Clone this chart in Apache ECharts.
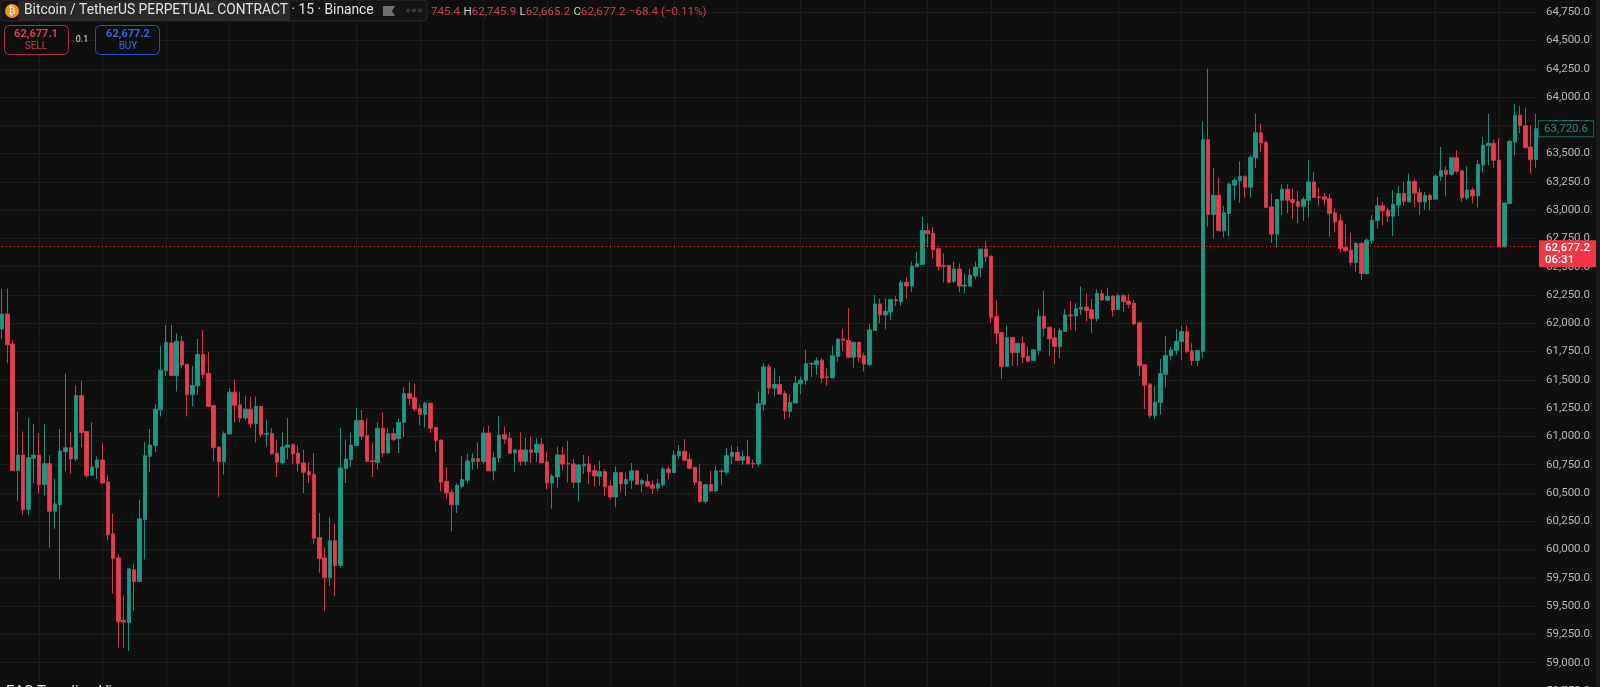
<!DOCTYPE html>
<html>
<head>
<meta charset="utf-8">
<title>BTCUSDT.P 15</title>
<script src="https://cdn.jsdelivr.net/npm/echarts@6/dist/echarts.min.js"></script>
<style>
  html,body{margin:0;padding:0;background:#0f0f0f;overflow:hidden;}
  #chart{width:1600px;height:687px;}
</style>
</head>
<body>
<div id="chart"></div>
<script>
// 15 min candles (prices in USDT)
var opens = [
  61950,62082,61817,60697,60835,60353,60806,60835,60574,60759,
  60338,60397,60865,60900,60800,61362,61044,60656,60724,60791,
  60597,60139,59927,59374,59354,59821,59718,60265,60824,60918,
  61235,61579,61826,61538,61841,61638,61368,61447,61723,61559,
  61273,60906,60777,61021,61391,61279,61162,61241,61112,61265,
  61018,61026,60853,60765,60903,60927,60853,60765,60691,60665,
  60106,59927,59751,60077,59859,60715,60794,60918,61141,61009,
  60785,60771,61071,60853,61024,60980,61124,61380,61342,61247,
  61195,61294,61080,60968,60601,60507,60395,60560,60612,60777,
  60804,60777,61030,60695,60809,61015,60983,60854,60880,60780,
  60880,60859,60930,60774,60589,60642,60836,60762,60756,60595,
  60739,60756,60698,60648,60689,60562,60465,60680,60580,60612,
  60695,60580,60601,60571,60542,60571,60712,60680,60830,60868,
  60798,60727,60601,60424,60574,60518,60695,60683,60824,60859,
  60789,60821,60762,60756,61283,61615,61427,61459,61380,61221,
  61295,61465,61495,61639,61633,61674,61527,61518,61706,61862,
  61850,61700,61833,61712,61636,61936,62171,62074,62100,62209,
  62191,62362,62329,62500,62521,62820,62797,62659,62512,62512,
  62371,62479,62329,62329,62418,62491,62656,62594,62059,61918,
  61618,61874,61741,61824,61709,61671,61759,62062,61965,61871,
  61794,61927,62074,62065,62124,62144,62121,62041,62262,62203,
  62238,62121,62244,62197,62177,62006,61633,61462,61183,61300,
  61550,61712,61759,61838,61927,61756,61671,61750,63623,62962,
  63132,62818,62971,63221,63259,63297,63203,63462,63685,63600,
  63029,62788,63088,63185,63094,63076,63035,63088,63250,63118,
  63118,63103,62976,62906,62671,62647,62538,62706,62441,62729,
  62906,63038,63000,62947,63044,63147,63073,63255,63155,63073,
  63129,63097,63300,63352,63317,63464,63349,63108,63179,63126,
  63399,63570,63591,63441,62676,63058,63602,63840,63746,63558,
  63446
];
var closes = [
  62082,61811,60697,60835,60353,60812,60835,60574,60759,60338,
  60403,60871,60900,60800,61362,61035,60653,60730,60791,60588,
  60130,59921,59362,59360,59830,59718,60271,60829,60924,61241,
  61585,61832,61538,61841,61632,61368,61450,61723,61544,61265,
  60900,60777,61024,61391,61273,61162,61241,61112,61265,61015,
  61026,60847,60771,60906,60924,60844,60759,60682,60659,60100,
  59921,59751,60077,59859,60721,60800,60924,61141,61000,60780,
  60777,61071,60853,61024,60971,61124,61380,61336,61242,61195,
  61294,61071,60962,60595,60501,60395,60565,60618,60783,60804,
  60777,61030,60695,60812,61012,60977,60851,60880,60780,60880,
  60859,60930,60765,60589,60648,60836,60756,60756,60595,60748,
  60756,60686,60651,60689,60554,60465,60680,60580,60618,60695,
  60577,60610,60562,60542,60580,60712,60680,60836,60868,60789,
  60718,60595,60424,60574,60518,60695,60689,60830,60859,60786,
  60821,60759,60756,61289,61615,61427,61459,61374,61224,61300,
  61471,61497,61642,61645,61668,61515,61521,61712,61859,61850,
  61700,61833,61700,61639,61941,62171,62074,62106,62209,62200,
  62362,62329,62506,62526,62820,62791,62650,62503,62503,62362,
  62479,62329,62338,62426,62497,62656,62588,62053,61912,61618,
  61874,61741,61824,61700,61665,61765,62062,61956,61862,61794,
  61936,62074,62065,62130,62141,62112,62041,62265,62206,62238,
  62118,62244,62191,62168,61994,61624,61453,61183,61303,61556,
  61715,61765,61841,61927,61750,61671,61759,63623,62962,63132,
  62818,62976,63229,63265,63300,63203,63467,63685,63594,63023,
  62788,63094,63185,63088,63068,63035,63094,63250,63112,63112,
  63097,62971,62897,62662,62641,62538,62706,62441,62735,62911,
  63038,62994,62947,63052,63147,63079,63255,63150,63073,63129,
  63094,63302,63352,63317,63464,63344,63108,63179,63126,63405,
  63573,63591,63441,62676,63064,63608,63840,63746,63552,63446,
  63720.6
];
var lows = [
  61858,61647,60697,60427,60303,60303,60588,60494,60477,60015,
  60183,59736,60691,60671,60779,60906,60632,60656,60624,60582,
  60083,59612,59133,59133,59104,59454,59718,59912,60682,60859,
  61176,61535,61538,61397,61603,61176,61265,61368,61515,61265,
  60780,60465,60662,61021,61126,61123,61147,61074,60947,60991,
  60912,60835,60641,60750,60800,60759,60691,60500,60588,60053,
  59795,59454,59677,59589,59839,60588,60730,60918,60971,60780,
  60641,60706,60818,60853,60956,60853,60992,61271,61218,61100,
  61080,61030,60859,60512,60454,60160,60324,60536,60580,60704,
  60712,60756,60695,60610,60771,60933,60845,60683,60742,60742,
  60765,60777,60765,60530,60360,60545,60698,60595,60542,60424,
  60668,60580,60560,60565,60471,60442,60374,60507,60471,60536,
  60571,60507,60551,60492,60512,60551,60618,60680,60801,60780,
  60707,60565,60412,60404,60512,60512,60571,60654,60756,60780,
  60748,60748,60718,60733,61227,61374,61353,61374,61153,61168,
  61295,61374,61456,61524,61544,61471,61447,61515,61662,61759,
  61689,61609,61653,61574,61618,61936,62000,61947,62030,62153,
  62153,62218,62277,62500,62521,62671,62574,62465,62362,62353,
  62353,62274,62265,62329,62388,62406,62541,62006,61815,61506,
  61618,61624,61624,61647,61665,61665,61721,61883,61712,61641,
  61691,61927,61941,61936,62074,62015,61912,62015,62200,62197,
  62059,62118,62103,62132,61985,61536,61242,61162,61153,61192,
  61433,61671,61721,61671,61736,61627,61618,61691,62853,62750,
  62818,62759,62771,63088,63065,63109,63109,63373,63515,63023,
  62712,62668,62956,62971,62926,62882,62906,62935,63112,63038,
  63044,62765,62809,62624,62632,62509,62456,62382,62427,62700,
  62838,62867,62897,62770,62947,63044,63073,63029,62955,63005,
  62999,63097,63258,63123,63300,63323,63073,63088,63058,63023,
  63332,63397,63376,62670,62670,63058,63485,63682,63544,63329,
  63376
];
var highs = [
  62302,62308,61853,61220,61044,61162,61109,61029,61109,60835,
  60627,61065,61553,61038,61450,61491,61044,61123,60824,60941,
  60656,60318,59956,59595,59830,59874,60441,60953,61065,61285,
  61803,61985,61985,61911,61888,61638,61623,61861,61941,61744,
  61273,60906,61044,61426,61500,61397,61359,61353,61353,61265,
  61147,61074,60971,61035,61162,60941,60918,60882,60771,60853,
  60324,60024,60289,60230,61074,60971,61035,61250,61235,61162,
  60947,61123,61212,61071,61071,61155,61433,61483,61468,61286,
  61306,61294,61080,60968,60727,60530,60586,60824,60845,60851,
  60948,61080,61095,60859,61177,61086,61036,60889,61036,60986,
  60998,60986,60986,60859,60668,60909,60909,60962,60801,60756,
  60836,60830,60748,60786,60712,60610,60736,60680,60683,60765,
  60707,60624,60668,60610,60624,60733,60742,60874,60924,60977,
  60851,60733,60754,60580,60698,60742,60718,60898,60918,60912,
  60874,60968,60795,61397,61647,61638,61600,61536,61403,61374,
  61536,61530,61765,61656,61700,61691,61603,61803,61868,61950,
  62133,61833,61833,61736,61994,62250,62218,62221,62221,62241,
  62382,62406,62544,62632,62941,62882,62853,62659,62618,62515,
  62544,62529,62435,62485,62544,62656,62726,62594,62206,61918,
  61977,61874,61824,61883,61794,61771,62127,62288,61965,61956,
  61956,62127,62197,62177,62324,62265,62215,62300,62294,62315,
  62250,62262,62256,62256,62206,62012,61633,61471,61447,61683,
  61888,61794,61950,61977,61977,61824,61765,63785,64250,63373,
  63288,63038,63244,63288,63432,63309,63485,63853,63764,63617,
  63147,63094,63229,63229,63191,63171,63118,63441,63338,63200,
  63153,63147,63015,62962,62876,62800,62721,62721,62750,62956,
  63117,63073,63023,63176,63214,63250,63323,63279,63197,63161,
  63147,63314,63558,63388,63470,63529,63349,63388,63200,63441,
  63646,63852,63623,63638,63064,63623,63940,63920,63905,63749,
  63852
];
var lastPrice = 62677.2;
var countdown = '06:31';
var movingAverage = 63720.6;
var sellPrice = '62,677.1';
var buyPrice = '62,677.2';

var upColor = '#1a9a85';
var downColor = '#f0394f';
var upWick = '#1b8d79';
var downWick = '#c83b4a';

var candles = [];
var categories = [];
for (var i = 0; i < opens.length; i++) {
  candles.push([opens[i], closes[i], lows[i], highs[i]]);
  categories.push(i);
}

function priceLabel(v) {
  return v.toLocaleString('en-US', {minimumFractionDigits: 1, maximumFractionDigits: 1});
}

var font = 'Roboto, "Liberation Sans", sans-serif';
var mychart = echarts.init(document.getElementById('chart'), null, {renderer: 'canvas'});

var option = {
  animation: false,
  backgroundColor: '#0f0f0f',
  // price scale runs past the top and bottom of the window, like the screenshot
  grid: {left: 2, right: 64, top: -16.08, bottom: -32.2, outerBoundsMode: 'none'},
  xAxis: {
    type: 'category',
    data: categories,
    boundaryGap: false,
    axisLine: {show: false},
    axisTick: {show: false},
    axisLabel: {show: false},
    splitLine: {
      show: true,
      interval: function (index) { return (index - 7) % 12 === 0; },
      lineStyle: {color: '#1d1d1d', width: 1}
    }
  },
  yAxis: {
    type: 'value',
    position: 'right',
    min: 58500,
    max: 65000,
    interval: 250,
    axisLine: {show: false},
    axisTick: {show: false},
    axisLabel: {
      color: '#b6b6b6',
      fontFamily: font,
      fontSize: 11.5,
      margin: 10,
      formatter: priceLabel
    },
    splitLine: {show: true, lineStyle: {color: '#1d1d1d', width: 1}}
  },
  series: [{
    type: 'candlestick',
    data: candles,
    clip: false,
    barWidth: 4,
    itemStyle: {
      color: upColor,
      color0: downColor,
      borderColor: upWick,
      borderColor0: downWick,
      borderWidth: 1
    },
    markLine: {
      silent: true,
      symbol: 'none',
      animation: false,
      data: [
        {
          yAxis: lastPrice,
          lineStyle: {color: 'rgba(242,54,69,0.95)', type: [1, 3], width: 1},
          label: {
            position: 'end',
            distance: 3,
            offset: [0, 7],
            formatter: priceLabel(lastPrice) + '\n' + countdown,
            backgroundColor: '#f23645',
            color: '#ffffff',
            fontFamily: font,
            fontSize: 11.5,
            lineHeight: 12,
            fontWeight: 500,
            padding: [2, 6, 1, 6]
          }
        },
        {
          yAxis: movingAverage,
          lineStyle: {color: 'transparent', width: 0},
          label: {
            position: 'end',
            distance: 3,
            formatter: priceLabel(movingAverage),
            backgroundColor: '#0f0f0f',
            borderColor: '#14695c',
            borderWidth: 1,
            color: '#1c8f7c',
            fontFamily: font,
            fontSize: 11.5,
            padding: [2, 5, 1, 5]
          }
        }
      ]
    }
  }],
  graphic: [
    // lighter strip at the window edge
    {type: 'rect', shape: {x: 1596, y: 0, width: 4, height: 687}, style: {fill: '#1a1a1a'}, z: 1},
    // symbol header
    {type: 'rect', shape: {x: 0, y: 0, width: 427, height: 21, r: 4}, style: {fill: '#151515', stroke: '#2c2c2c'}, z: 10},
    {type: 'rect', shape: {x: 18, y: 1, width: 272, height: 20, r: 2}, style: {fill: '#2a2a2a'}, z: 10},
    {type: 'circle', shape: {cx: 12, cy: 11, r: 7}, style: {fill: '#f0901e'}, z: 11},
    {type: 'text', style: {x: 12, y: 11, text: '₿', fill: '#ffffff', font: '10px "DejaVu Sans"', align: 'center', verticalAlign: 'middle'}, z: 12},
    {type: 'text', style: {x: 24, y: 11, text: 'Bitcoin / TetherUS PERPETUAL CONTRACT · 15 · Binance', fill: '#e0e0e0', font: '13.8px ' + font, verticalAlign: 'middle'}, z: 12},
    {type: 'polygon', shape: {points: [[383, 6], [395, 6], [392, 11], [395, 16], [383, 16]]}, style: {fill: '#707070'}, z: 12},
    {type: 'text', style: {x: 414, y: 11, text: '◦◦◦', fill: '#d8d8d8', font: '10px "DejaVu Sans"', align: 'center', verticalAlign: 'middle'}, z: 12},
    // OHLC read-out
    {type: 'text', style: {
      x: 431, y: 12, verticalAlign: 'middle',
      text: '{r|745.4} {w|H}{r|62,745.9} {w|L}{r|62,665.2} {w|C}{r|62,677.2} {r|−68.4 (−0.11%)}',
      rich: {
        r: {fill: '#c9404e', font: '11.6px ' + font},
        w: {fill: '#c8c8c8', font: '11.6px ' + font}
      }
    }, z: 12},
    // sell and buy buttons
    {type: 'rect', shape: {x: 4.5, y: 25.5, width: 64, height: 29, r: 5}, style: {fill: '#0f0f0f', stroke: '#a5323f'}, z: 10},
    {type: 'text', style: {x: 36, y: 34, text: sellPrice, fill: '#d8404f', font: 'bold 11px ' + font, align: 'center', verticalAlign: 'middle'}, z: 11},
    {type: 'text', style: {x: 36, y: 46, text: 'SELL', fill: '#c83c4a', font: '10px ' + font, align: 'center', verticalAlign: 'middle'}, z: 11},
    {type: 'text', style: {x: 82, y: 40, text: '0.1', fill: '#e0e0e0', font: '9px ' + font, align: 'center', verticalAlign: 'middle'}, z: 11},
    {type: 'rect', shape: {x: 95.5, y: 25.5, width: 64, height: 29, r: 5}, style: {fill: '#0f0f0f', stroke: '#2a4fc0'}, z: 10},
    {type: 'text', style: {x: 128, y: 34, text: buyPrice, fill: '#3a62e0', font: 'bold 11px ' + font, align: 'center', verticalAlign: 'middle'}, z: 11},
    {type: 'text', style: {x: 128, y: 46, text: 'BUY', fill: '#3a62d0', font: '10px ' + font, align: 'center', verticalAlign: 'middle'}, z: 11},
    // indicator legend, cut by the bottom edge
    {type: 'text', style: {x: 6, y: 692, text: 'EAS Trending Vi', fill: '#e8e8e8', font: '15px ' + font, verticalAlign: 'middle'}, z: 11}
  ]
};
mychart.setOption(option);
</script>
</body>
</html>
